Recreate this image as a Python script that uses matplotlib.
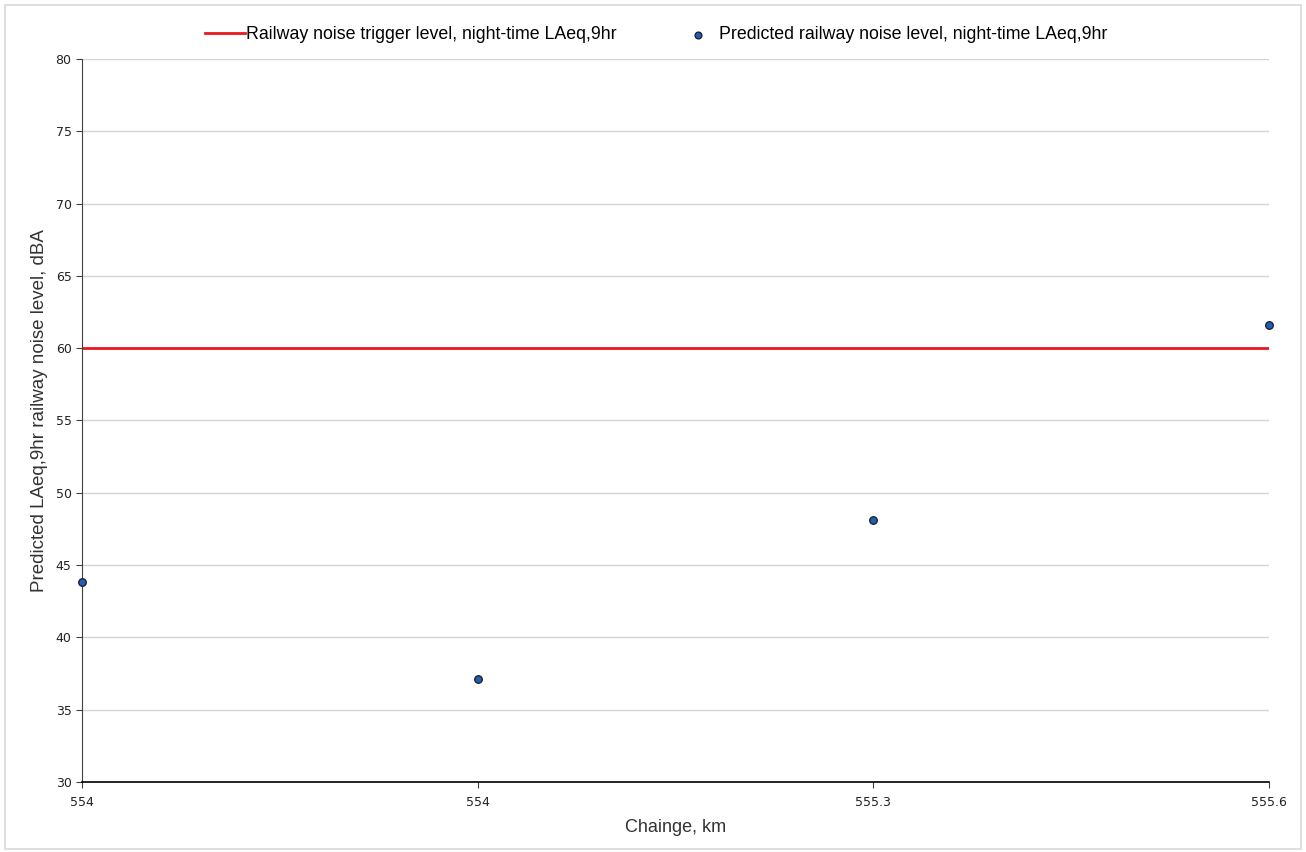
import numpy as np
import matplotlib.pyplot as plt
from matplotlib.patches import Rectangle

chainage_labels = ["554", "554", "555.3", "555.6"]
predicted_level = [43.8, 37.1, 48.1, 61.6]
trigger_level = [60, 60, 60, 60]

x = np.arange(len(chainage_labels))

fig = plt.figure(figsize=(13.06, 8.52), dpi=100)
fig.patches.append(Rectangle((0.004, 0.004), 0.992, 0.99, transform=fig.transFigure,
                             fill=False, edgecolor="#d9d9d9", linewidth=1.2))
ax = fig.add_axes([0.0628, 0.0822, 0.9089, 0.8486])

ax.plot(x, trigger_level, color="#e8191e", linewidth=2,
        label="Railway noise trigger level, night-time LAeq,9hr")
ax.scatter(x, predicted_level, s=30, color="#1f5fae", edgecolor="#1a1a2e",
           linewidth=0.9, zorder=5, clip_on=False,
           label="Predicted railway noise level, night-time LAeq,9hr")

ax.set_xlim(0, 3)
ax.set_ylim(30, 80)
ax.set_yticks(np.arange(30, 81, 5))
ax.set_xticks(x)
ax.set_xticklabels(chainage_labels)
ax.tick_params(axis="both", labelsize=9, length=4, color="#404040", labelcolor="#222222")
ax.tick_params(axis="x", pad=6)
ax.yaxis.grid(True, color="#d4d4d4", linewidth=1)
ax.set_axisbelow(True)
for s in ["top", "right"]:
    ax.spines[s].set_visible(False)
ax.spines["left"].set_color("#404040")
ax.spines["bottom"].set_color("#000000")
ax.spines["bottom"].set_linewidth(1.2)

ax.set_xlabel("Chainge, km", fontsize=13, family="Liberation Sans", color="#333333", labelpad=7)
ax.set_ylabel("Predicted LAeq,9hr railway noise level, dBA", fontsize=13.5,
              family="Liberation Sans", color="#333333")
ax.yaxis.set_label_coords(-0.0287, 0.514)

fig.legend(loc="upper center", bbox_to_anchor=(0.5027, 0.988), ncol=2, frameon=False,
           prop={"family": "Liberation Sans", "size": 12.8}, handlelength=2.2,
           handletextpad=0.1, columnspacing=3.45, markerscale=0.9)

fig.savefig("out.png", dpi=100)
